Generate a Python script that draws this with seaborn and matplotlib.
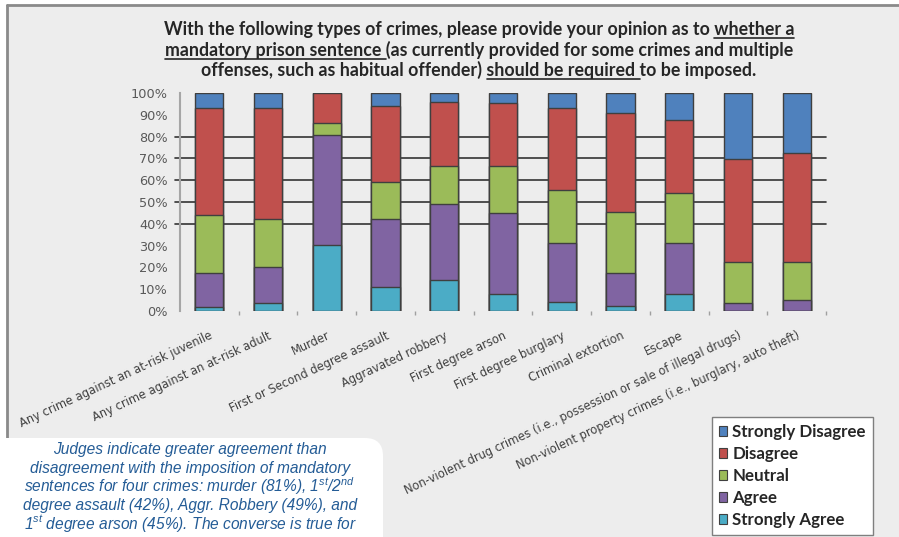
import matplotlib.pyplot as plt
from matplotlib.patches import Patch, Rectangle, FancyBboxPatch
from matplotlib.lines import Line2D
from matplotlib.transforms import IdentityTransform
import numpy as np
import pandas as pd
import seaborn as sns

W, H = 899, 537

# --- data (percent of judges) ---
crimes = [
    "Any crime against an at-risk juvenile",
    "Any crime against an at-risk adult",
    "Murder",
    "First or Second degree assault",
    "Aggravated robbery",
    "First degree arson",
    "First degree burglary",
    "Criminal extortion",
    "Escape",
    "Non-violent drug crimes (i.e., possession or sale of illegal drugs)",
    "Non-violent property crimes (i.e., burglary, auto theft)",
]
strongly_agree = [1.8, 3.8, 30.2, 10.9, 14.4, 8.0, 4.0, 2.5, 8.0, 0.0, 0.0]
agree = [15.5, 16.4, 50.5, 31.1, 34.6, 36.9, 27.4, 15.0, 23.4, 3.8, 5.1]
neutral = [26.8, 21.8, 5.4, 17.0, 17.6, 21.7, 24.2, 28.0, 22.8, 18.7, 17.4]
disagree = [49.0, 51.1, 13.9, 35.2, 29.4, 28.8, 37.4, 45.3, 33.5, 47.0, 50.1]
strongly_disagree = [6.9, 6.9, 0.0, 5.8, 4.0, 4.6, 7.0, 9.2, 12.3, 30.5, 27.4]

legend_order = ["Strongly Disagree", "Disagree", "Neutral", "Agree", "Strongly Agree"]
palette = {
    "Strongly Disagree": "#4F81BD",
    "Disagree": "#C0504D",
    "Neutral": "#9BBB59",
    "Agree": "#8064A2",
    "Strongly Agree": "#4BACC6",
}
y_ticks = list(range(0, 101, 10))
grid_levels = [40, 50, 60, 70, 80]

title_lines = [
    [("With the following types of crimes, please provide your opinion as to ", False), ("whether a", True)],
    [("mandatory prison sentence ", True), ("(as currently provided for some crimes and multiple", False)],
    [("offenses, such as habitual offender) ", False), ("should be required ", True), ("to be imposed.", False)],
]
note_lines = [
    "Judges indicate greater agreement than",
    "disagreement with the imposition of mandatory",
    r"sentences for four crimes: murder (81%), 1$^{\mathit{st}}$/2$^{\mathit{nd}}$",
    "degree assault (42%), Aggr. Robbery (49%), and",
    r"1$^{\mathit{st}}$ degree arson (45%). The converse is true for",
]

df = pd.DataFrame({
    "crime": crimes,
    "Strongly Agree": strongly_agree,
    "Agree": agree,
    "Neutral": neutral,
    "Disagree": disagree,
    "Strongly Disagree": strongly_disagree,
})
stack = ["Strongly Agree", "Agree", "Neutral", "Disagree", "Strongly Disagree"]
cum = df[stack].cumsum(axis=1)
cum["crime"] = df["crime"]

sns.set_style("white")
plt.rcParams["mathtext.fontset"] = "custom"
plt.rcParams["mathtext.it"] = "Liberation Sans:italic"
plt.rcParams["mathtext.rm"] = "Liberation Sans"

fig = plt.figure(figsize=(W / 100, H / 100), dpi=100)
fig.patch.set_facecolor("white")
ident = IdentityTransform()

# slide-ish background + frame lines
fig.add_artist(Rectangle((8, 0), W, H - 6, transform=ident, facecolor="#EDEDED",
                         edgecolor="none", zorder=-5))
fig.add_artist(Line2D([7, W], [H - 5, H - 5], transform=ident, color="#8A8A8A", lw=2, zorder=-4))
fig.add_artist(Line2D([7, 7], [0, H - 5], transform=ident, color="#8A8A8A", lw=2, zorder=-4))

ax = fig.add_axes([180 / W, (H - 311) / H, 646 / W, 218 / H])
ax.set_facecolor("none")

for v in grid_levels:
    ax.axhline(v, xmin=-0.007, xmax=1, color="#333333", lw=1.2, zorder=1, clip_on=False)

# stacked bars: draw cumulative totals from the top down
for lvl in reversed(stack):
    sns.barplot(data=cum, x="crime", y=lvl, color=palette[lvl], width=0.48,
                edgecolor="#3F3F3F", linewidth=1, saturation=1, ax=ax, zorder=2)

ax.set_ylim(0, 100)
ax.set_xlim(-0.5, len(crimes) - 0.5)
ax.set_xlabel("")
ax.set_ylabel("")
ax.set_yticks(y_ticks)
ax.set_yticklabels([f"{v}%" for v in y_ticks], fontsize=9.3, color="#595959")
ax.tick_params(axis="y", length=0, pad=9)
ax.set_xticks(range(len(crimes)))
ax.set_xticklabels(crimes, rotation=25, ha="right", rotation_mode="anchor",
                   fontsize=8.3, color="#404040")
ax.tick_params(axis="x", which="major", length=0, pad=13)
ax.set_xticks(np.arange(0.5, len(crimes), 1), minor=True)
ax.tick_params(axis="x", which="minor", length=3, width=1, color="#A0A0A0", direction="out", bottom=True)
for side in ["top", "right", "bottom"]:
    ax.spines[side].set_visible(False)
ax.spines["left"].set_color("#A6A6A6")
ax.spines["left"].set_linewidth(1.5)

# title with underlined pieces
renderer = fig.canvas.get_renderer()
title_font = dict(family="Lato", weight="bold", size=12.8)
for i, segs in enumerate(title_lines):
    base = 35 + i * 20.5
    full = "".join(s for s, _ in segs)
    t = fig.text(479 / W, 1 - base / H, full, ha="center", va="baseline", color="#262626", **title_font)
    prop = t.get_fontproperties()

    def tw(s):
        return (renderer.get_text_width_height_descent(s + "x", prop, ismath=False)[0]
                - renderer.get_text_width_height_descent("x", prop, ismath=False)[0])

    x0 = t.get_window_extent(renderer).x0
    pre = ""
    for s, ul in segs:
        if ul:
            xa = x0 + tw(pre)
            xb = x0 + tw(pre + s.rstrip()) + (tw(" ") if s.endswith(" ") else 0)
            fig.add_artist(Line2D([xa, xb], [H - base - 3, H - base - 3], transform=ident,
                                  color="#262626", lw=1.2))
        pre += s

# legend
handles = [Patch(facecolor=palette[k], edgecolor="#404040", linewidth=0.8) for k in legend_order]
leg = fig.legend(handles, legend_order, loc="upper left", bbox_to_anchor=(712 / W, 1 - 417 / H),
                 frameon=True, fancybox=False, framealpha=1, facecolor="white", edgecolor="#7F7F7F",
                 prop=dict(family="Lato", weight="bold", size=12.2), handlelength=0.5, handleheight=0.5,
                 handletextpad=0.3, labelspacing=0.36, borderpad=0.4, borderaxespad=0)
leg.get_frame().set_linewidth(1)
for txt in leg.get_texts():
    txt.set_color("#262626")

# rounded note box at the bottom left
fig.add_artist(FancyBboxPatch((-30, -30), 413, (H - 438) + 30, transform=ident,
                              boxstyle="round,pad=0,rounding_size=18", facecolor="white",
                              edgecolor="none", zorder=3))
for i, line in enumerate(note_lines):
    base = 454 + i * 18.8
    fig.text(190 / W, 1 - base / H, line, ha="center", va="baseline", color="#245C96",
             family="Liberation Sans", style="italic", size=11.2, zorder=4)

fig.savefig("out.png", dpi=100)
